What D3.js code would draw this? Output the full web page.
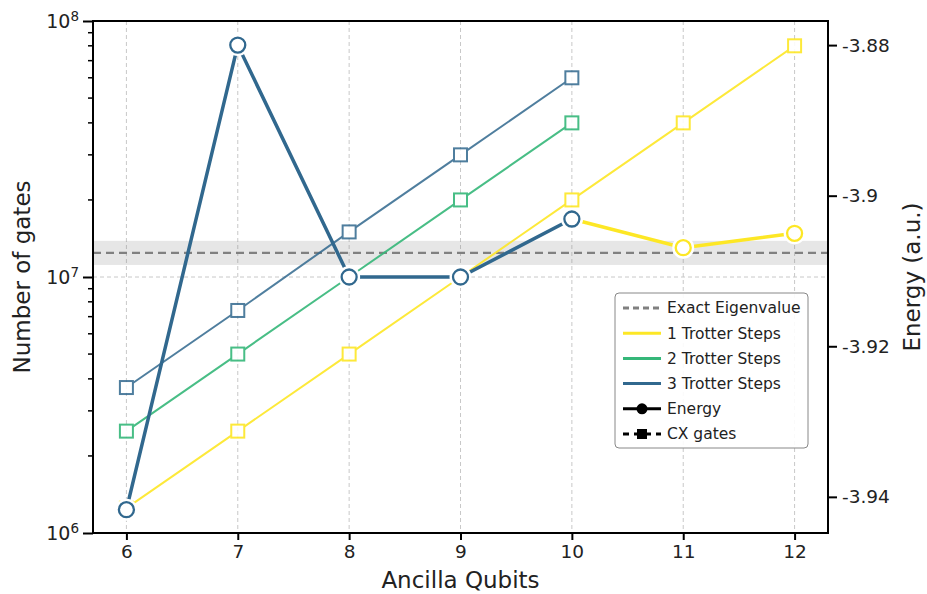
<!DOCTYPE html>
<meta charset="utf-8">
<head>
<script src="https://cdn.jsdelivr.net/npm/d3@7"></script>
<style>
body { margin: 0; background: #fff; }
text { font-family: "DejaVu Sans", sans-serif; fill: #222; }
</style>
</head>
<body>
<script>

// datas
var qubits = [6, 7, 8, 9, 10, 11, 12];
var series = ["1 Trotter Steps", "2 Trotter Steps", "3 Trotter Steps"];
var colors = ["#fde725", "#35b779", "#31688e"];

// CX gate counts per series (per ancilla qubit count)
var cx1 = [1.25e6, 2.5e6, 5e6, 1e7, 2e7, 4e7, 8e7];
var cx2 = [2.5e6, 5e6, 1e7, 2e7, 4e7];
var cx3 = [3.7e6, 7.4e6, 1.5e7, 3e7, 6e7];

// energies (only the visible ones)
var energyQ1 = [10, 11, 12];
var energy1 = [-3.9031, -3.9069, -3.9050];
var energyQ3 = [6, 7, 8, 9, 10];
var energy3 = [-3.9417, -3.8800, -3.9108, -3.9108, -3.9031];

var exactEnergy = -3.9076;
var chemAcc = 0.0016;

var xTicks = [6, 7, 8, 9, 10, 11, 12];
var yTicksLeft = [1e6, 1e7, 1e8];
var yTicksRight = [-3.88, -3.9, -3.92, -3.94];

var width = 927, height = 594;
var margin = {top: 21, right: 99, bottom: 61, left: 93};
var iw = width - margin.left - margin.right,
    ih = height - margin.top - margin.bottom;

var svg = d3.select("body").append("svg")
    .attr("width", width)
    .attr("height", height);

var g = svg.append("g")
    .attr("transform", "translate(" + margin.left + "," + margin.top + ")");

var x = d3.scaleLinear().domain([5.7, 12.3]).range([0, iw]);
var yL = d3.scaleLog().domain([1e6, 1e8]).range([ih, 0]);
var yR = d3.scaleLinear().domain([-3.9448, -3.8768]).range([ih, 0]);

// grid
g.append("g").selectAll("line").data(xTicks).enter().append("line")
    .attr("x1", d => x(d)).attr("x2", d => x(d))
    .attr("y1", 0).attr("y2", ih)
    .attr("stroke", "#c8c8c8").attr("stroke-width", 1).attr("stroke-dasharray", "4,3");
g.append("g").selectAll("line").data(yTicksLeft).enter().append("line")
    .attr("x1", 0).attr("x2", iw)
    .attr("y1", d => yL(d)).attr("y2", d => yL(d))
    .attr("stroke", "#c8c8c8").attr("stroke-width", 1).attr("stroke-dasharray", "4,3");

// chemical accuracy band + exact eigenvalue
g.append("rect")
    .attr("x", 0).attr("width", iw)
    .attr("y", yR(exactEnergy + chemAcc))
    .attr("height", yR(exactEnergy - chemAcc) - yR(exactEnergy + chemAcc))
    .attr("fill", "#808080").attr("opacity", 0.2);
g.append("line")
    .attr("x1", 0).attr("x2", iw)
    .attr("y1", yR(exactEnergy)).attr("y2", yR(exactEnergy))
    .attr("stroke", "#808080").attr("stroke-width", 2.2).attr("stroke-dasharray", "8,5");

// CX gate lines
var cxData = [cx1, cx2, cx3];
var lineL = d3.line().x(d => x(d[0])).y(d => yL(d[1]));
cxData.forEach(function(vals, i) {
  var pts = vals.map((v, j) => [qubits[j], v]);
  var grp = g.append("g").attr("opacity", i == 2 ? 0.85 : 0.9);
  grp.append("path").datum(pts)
      .attr("d", lineL)
      .attr("fill", "none").attr("stroke", colors[i]).attr("stroke-width", 2);
  grp.selectAll("rect").data(pts).enter().append("rect")
      .attr("x", d => x(d[0]) - 6.5).attr("y", d => yL(d[1]) - 6.5)
      .attr("width", 13).attr("height", 13)
      .attr("fill", "#fff").attr("stroke", colors[i]).attr("stroke-width", 2);
});

// Energy lines (1 step first so 3 steps sits on top at x=10)
var lineR = d3.line().x(d => x(d[0])).y(d => yR(d[1]));
var eData = [[energyQ1, energy1, colors[0]], [energyQ3, energy3, colors[2]]];
eData.forEach(function(s) {
  var pts = s[1].map((v, j) => [s[0][j], v]);
  var grp = g.append("g");
  grp.append("path").datum(pts)
      .attr("d", lineR)
      .attr("fill", "none").attr("stroke", s[2]).attr("stroke-width", 3.5);
  grp.selectAll("circle").data(pts).enter().append("circle")
      .attr("cx", d => x(d[0])).attr("cy", d => yR(d[1]))
      .attr("r", 8.5)
      .attr("fill", "#fff").attr("stroke", "#fff").attr("stroke-width", 5);
  grp.selectAll("circle.m").data(pts).enter().append("circle")
      .attr("class", "m")
      .attr("cx", d => x(d[0])).attr("cy", d => yR(d[1]))
      .attr("r", 7.5)
      .attr("fill", "#fff").attr("stroke", s[2]).attr("stroke-width", 2.3);
});

// axes
var xAxis = g.append("g").attr("transform", "translate(0," + ih + ")")
    .call(d3.axisBottom(x).tickValues(xTicks).tickSize(7).tickPadding(5).tickFormat(d3.format("d")));
var lAxis = g.append("g")
    .call(d3.axisLeft(yL).tickValues(yTicksLeft).tickSize(10).tickPadding(6).tickFormat(""));
var minor = [];
[1e6, 1e7].forEach(function(b) { for (var k = 2; k < 10; k++) minor.push(b * k); });
g.append("g").selectAll("line").data(minor).enter().append("line")
    .attr("x1", -5).attr("x2", 0)
    .attr("y1", d => yL(d)).attr("y2", d => yL(d))
    .attr("stroke", "#000").attr("stroke-width", 1.5);
var rAxis = g.append("g").attr("transform", "translate(" + iw + ",0)")
    .call(d3.axisRight(yR).tickValues(yTicksRight).tickSize(9).tickPadding(5).tickFormat(d => String(d)));

[xAxis, lAxis, rAxis].forEach(function(a) {
  a.select(".domain").remove();
  a.selectAll(".tick line").attr("stroke", "#000").attr("stroke-width", 2);
  a.selectAll(".tick text").style("font-size", "18.5px").attr("fill", "#222");
});

// left labels with superscripts
lAxis.selectAll(".tick").each(function(d) {
  var t = d3.select(this).append("text")
      .attr("x", -14).attr("dy", "0.32em")
      .attr("text-anchor", "end")
      .style("font-size", "19px");
  t.append("tspan").text("10");
  t.append("tspan").attr("dy", "-0.5em").style("font-size", "13.5px").text(Math.round(Math.log10(d)));
});

// frame
g.append("rect").attr("x", 0).attr("y", 0).attr("width", iw).attr("height", ih)
    .attr("fill", "none").attr("stroke", "#000").attr("stroke-width", 2);

// axis titles
g.append("text").attr("x", iw / 2).attr("y", ih + 55)
    .attr("text-anchor", "middle").style("font-size", "23px").text("Ancilla Qubits");
g.append("text").attr("transform", "translate(" + (-63) + "," + (ih / 2) + ") rotate(-90)")
    .attr("text-anchor", "middle").style("font-size", "23px").text("Number of gates");
g.append("text").attr("transform", "translate(" + (iw + 92) + "," + (ih / 2) + ") rotate(-90)")
    .attr("text-anchor", "middle").style("font-size", "23px").text("Energy (a.u.)");

// legend
var leg = svg.append("g").attr("transform", "translate(615,293)");
leg.append("rect").attr("width", 193).attr("height", 155).attr("rx", 4)
    .attr("fill", "#fff").attr("fill-opacity", 0.9).attr("stroke", "#888").attr("stroke-width", 1);
var items = [
  {label: "Exact Eigenvalue", color: "#808080", dash: "6,4", marker: null},
  {label: series[0], color: colors[0], dash: null, marker: null},
  {label: series[1], color: colors[1], dash: null, marker: null},
  {label: series[2], color: colors[2], dash: null, marker: null},
  {label: "Energy", color: "#000", dash: null, marker: "circle"},
  {label: "CX gates", color: "#000", dash: "6,5", marker: "square"}
];
items.forEach(function(it, i) {
  var yy = 15 + i * 25.2;
  var row = leg.append("g").attr("transform", "translate(0," + yy + ")");
  row.append("line").attr("x1", 8).attr("x2", 46)
      .attr("stroke", it.color).attr("stroke-width", 3)
      .attr("stroke-dasharray", it.dash);
  if (it.marker == "circle")
    row.append("circle").attr("cx", 27).attr("r", 5.5).attr("fill", "#000");
  if (it.marker == "square")
    row.append("rect").attr("x", 22).attr("y", -5).attr("width", 10).attr("height", 10).attr("fill", "#000");
  row.append("text").attr("x", 52).attr("dy", "0.35em")
      .style("font-size", "15.5px").text(it.label);
});

</script>
</body>
